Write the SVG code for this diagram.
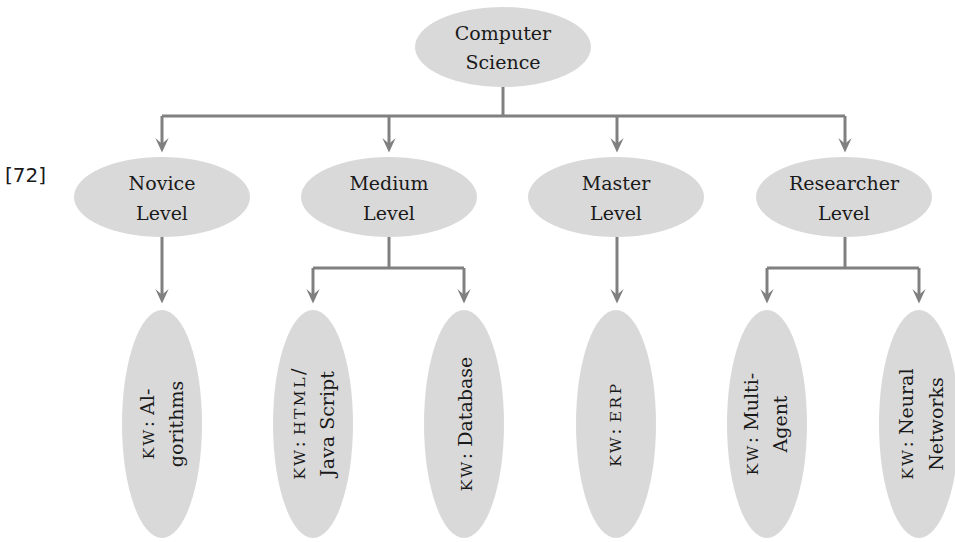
<svg xmlns="http://www.w3.org/2000/svg" width="955" height="542" viewBox="0 0 955 542">
<style>
.node ellipse{fill:#d9d9d9;}
text{font-family:"DejaVu Serif","Liberation Serif",serif;font-size:19px;fill:#1a1a1a;text-anchor:middle;}
.sc{font-size:15.5px;letter-spacing:2.5px;}
.conn path{fill:none;stroke:#808080;stroke-width:3;}
.ref{font-family:"DejaVu Sans","Liberation Sans",sans-serif;font-size:20px;text-anchor:start;}
</style>
<defs>
<marker id="arr" markerUnits="userSpaceOnUse" markerWidth="20" markerHeight="20" viewBox="-16 -8 18 16" refX="-5" refY="0" orient="auto">
<path d="M0,0 L-13,-6 L-8,0 L-13,6 Z" fill="#808080"/>
</marker>
</defs>
<rect width="955" height="542" fill="#ffffff"/>
<text class="ref" x="5" y="182">[72]</text>
<g class="conn">
<path d="M503,87 V116"/>
<path d="M162,116 H845"/>
<path d="M162,116 V147" marker-end="url(#arr)"/>
<path d="M389,116 V147" marker-end="url(#arr)"/>
<path d="M617,116 V147" marker-end="url(#arr)"/>
<path d="M845,116 V147" marker-end="url(#arr)"/>
<path d="M162,237 V298" marker-end="url(#arr)"/>
<path d="M389,237 V268"/>
<path d="M313,268 H464"/>
<path d="M313,268 V298" marker-end="url(#arr)"/>
<path d="M464,268 V298" marker-end="url(#arr)"/>
<path d="M617,237 V298" marker-end="url(#arr)"/>
<path d="M845,237 V268"/>
<path d="M767,268 H919"/>
<path d="M767,268 V298" marker-end="url(#arr)"/>
<path d="M919,268 V298" marker-end="url(#arr)"/>
</g>
<g id="cs" class="node"><ellipse cx="503" cy="47" rx="88" ry="40"/><text x="503" y="40">Computer</text><text x="503" y="69">Science</text></g>
<g id="novice" class="node"><ellipse cx="162" cy="197" rx="88" ry="40"/><text x="162" y="190">Novice</text><text x="162" y="220">Level</text></g>
<g id="medium" class="node"><ellipse cx="389" cy="197" rx="88" ry="40"/><text x="389" y="190">Medium</text><text x="389" y="220">Level</text></g>
<g id="master" class="node"><ellipse cx="616" cy="197" rx="88" ry="40"/><text x="616" y="190">Master</text><text x="616" y="220">Level</text></g>
<g id="researcher" class="node"><ellipse cx="844" cy="197" rx="88" ry="40"/><text x="844" y="190">Researcher</text><text x="844" y="220">Level</text></g>
<g id="kw-algo" class="node"><ellipse cx="162" cy="424" rx="40" ry="114"/>
<g transform="translate(162,424) rotate(-90)"><text x="0" y="-8"><tspan class="sc">KW</tspan>: Al-</text><text x="0" y="21">gorithms</text></g></g>
<g id="kw-html" class="node"><ellipse cx="313" cy="424" rx="40" ry="114"/>
<g transform="translate(313,424) rotate(-90)"><text x="0" y="-8"><tspan class="sc">KW</tspan>: <tspan class="sc">HTML</tspan>/</text><text x="0" y="21">Java Script</text></g></g>
<g id="kw-db" class="node"><ellipse cx="464" cy="424" rx="40" ry="114"/>
<g transform="translate(464,424) rotate(-90)"><text x="0" y="8"><tspan class="sc">KW</tspan>: Database</text></g></g>
<g id="kw-erp" class="node"><ellipse cx="616" cy="424" rx="40" ry="114"/>
<g transform="translate(616,424) rotate(-90)"><text x="0" y="5"><tspan class="sc">KW</tspan>: <tspan class="sc">ERP</tspan></text></g></g>
<g id="kw-multi" class="node"><ellipse cx="767" cy="424" rx="40" ry="114"/>
<g transform="translate(767,424) rotate(-90)"><text x="0" y="-9"><tspan class="sc">KW</tspan>: Multi-</text><text x="0" y="20">Agent</text></g></g>
<g id="kw-nn" class="node"><ellipse cx="919" cy="424" rx="40" ry="114"/>
<g transform="translate(919,424) rotate(-90)"><text x="0" y="-6"><tspan class="sc">KW</tspan>: Neural</text><text x="0" y="24">Networks</text></g></g>
</svg>
